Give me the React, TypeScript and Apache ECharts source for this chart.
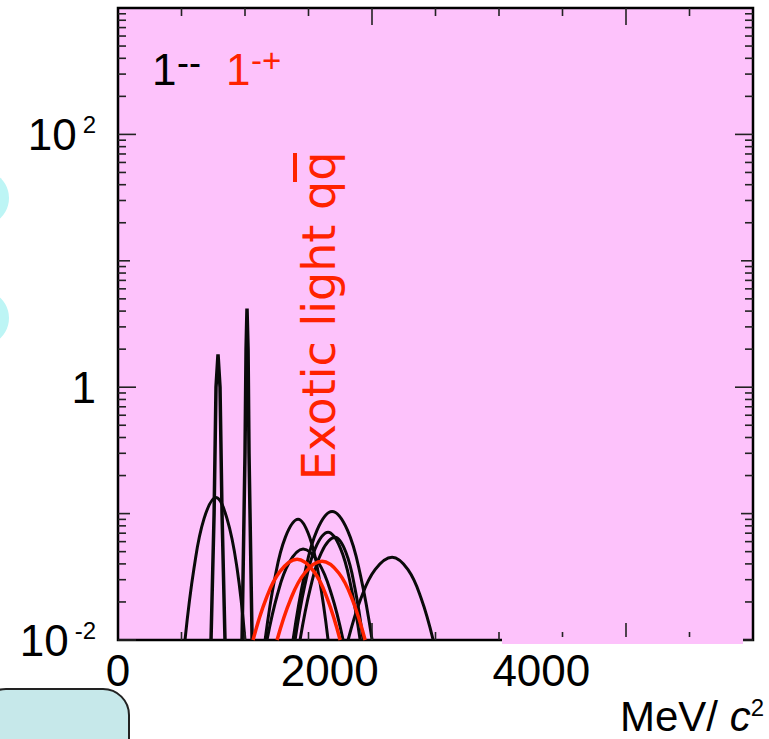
import React, { useEffect, useRef } from "react";
import * as echarts from "echarts";

// ---- data (MeV, log-scale values) ----
const xLabelValues = [0, 2000, 4000];
const xMinorTicks = [600, 1200, 1800, 3000, 3600, 4200, 5400];
const xMajorTicks = [2400, 4800];
const yLabelDecades = [-2, 0, 2];
const yDecades = [-2, -1, 0, 1, 2];
const yMinorMultipliers = [2, 3, 4, 5, 6, 7, 8, 9];

// vector mesons 1--
const narrowA = [[879, 0.01], [908, 0.1], [926, 1.0], [945, 1.82], [964, 1.0], [983, 0.1], [1011, 0.01]];
const narrowB = [[1172, 0.01], [1200, 0.3], [1210, 2.0], [1219, 4.2], [1229, 2.0], [1238, 0.3], [1267, 0.01]];
const broadC = [[633, 0.01], [718, 0.0369], [813, 0.0912], [926, 0.134], [1030, 0.0912], [1125, 0.0369], [1200, 0.01]];
const broadD = [[1390, 0.01], [1480, 0.0302], [1581, 0.0649], [1702, 0.0901], [1811, 0.0649], [1903, 0.0302], [1985, 0.01]];
const broadE = [[1408, 0.01], [1507, 0.023], [1616, 0.0408], [1749, 0.0524], [1895, 0.0408], [2017, 0.023], [2127, 0.01]];
const broadF = [[1654, 0.01], [1761, 0.0325], [1880, 0.0738], [2023, 0.104], [2169, 0.0738], [2291, 0.0325], [2401, 0.01]];
const broadG = [[1673, 0.01], [1764, 0.0268], [1864, 0.0531], [1985, 0.0711], [2102, 0.0531], [2200, 0.0268], [2288, 0.01]];
const broadG2 = [[1720, 0.01], [1817, 0.0256], [1923, 0.0494], [2051, 0.0649], [2153, 0.0494], [2239, 0.0256], [2316, 0.01]];
const broadH = [[2174, 0.01], [2295, 0.0213], [2429, 0.036], [2590, 0.0451], [2740, 0.036], [2865, 0.0213], [2978, 0.01]];
// exotic 1-+
const exoticR1 = [[1276, 0.01], [1397, 0.021], [1531, 0.0349], [1692, 0.0435], [1850, 0.0349], [1980, 0.021], [2099, 0.01]];
const exoticR2 = [[1503, 0.01], [1627, 0.0206], [1764, 0.0339], [1928, 0.0419], [2086, 0.0339], [2217, 0.0206], [2335, 0.01]];

const X_MIN = 0;
const X_MAX = 6000;
const Y_MIN = 0.01;
const Y_MAX = 1000;

const FONT = '"Liberation Sans Narrow", "Liberation Sans", Arial, sans-serif';
const FONT_W = '"Liberation Sans", Arial, sans-serif';
const PINK = "#fdc2fb";
const RED = "#ff2200";

export default function App() {
  const ref = useRef<HTMLDivElement>(null);
  useEffect(() => {
    document.body.style.margin = "0";
    const chart = echarts.init(ref.current!, null, { renderer: "svg" });

    const yTicks: number[][] = [];
    yDecades.forEach((d) => {
      const base = Math.pow(10, d);
      yTicks.push([0, base, yLabelDecades.includes(d) ? 18 : 12]);
      yMinorMultipliers.forEach((m) => yTicks.push([0, base * m, 8]));
    });
    const xTicks: number[][] = [
      ...xMinorTicks.map((v) => [v, Y_MIN, 8]),
      ...xMajorTicks.map((v) => [v, Y_MIN, 17]),
    ];

    const blackLine = (data: number[][], smooth: number | boolean, width = 3) => ({
      type: "line",
      data,
      smooth,
      symbol: "none",
      lineStyle: { color: "#0a0a0a", width },
      z: 3,
    });
    const redLine = (data: number[][]) => ({
      type: "line",
      data,
      smooth: 0.4,
      symbol: "none",
      lineStyle: { color: RED, width: 3.5 },
      z: 4,
    });

    const option: any = {
      animation: false,
      grid: {
        left: 118,
        right: 16,
        top: 8,
        bottom: 99,
        show: true,
        backgroundColor: PINK,
        borderColor: "#000",
        borderWidth: 2.5,
      },
      xAxis: {
        type: "value",
        min: X_MIN,
        max: X_MAX,
        interval: 2000,
        axisLine: { show: false },
        axisTick: { show: false },
        splitLine: { show: false },
        axisLabel: {
          fontFamily: FONT,
          fontSize: 44,
          color: "#000",
          margin: 8,
          formatter: (v: number) => (xLabelValues.includes(v) ? String(v) : ""),
        },
      },
      yAxis: {
        type: "log",
        logBase: 10,
        min: Y_MIN,
        max: Y_MAX,
        axisLine: { show: false },
        axisTick: { show: false },
        splitLine: { show: false },
        axisLabel: {
          margin: 22,
          formatter: (v: number) => {
            const d = Math.round(Math.log10(v));
            if (!yLabelDecades.includes(d)) return "";
            if (d === 0) return "{b|1}";
            return "{b|10}{s|" + String(d) + "}";
          },
          rich: {
            b: { fontFamily: FONT, fontSize: 44, color: "#000" },
            s: { fontFamily: FONT, fontSize: 24, color: "#000", verticalAlign: "top", padding: [0, 0, 0, 6] },
          },
        },
      },
      series: [
        {
          type: "custom",
          coordinateSystem: "cartesian2d",
          clip: false,
          silent: true,
          z: 6,
          data: yTicks,
          encode: { x: 0, y: 1 },
          renderItem: (_p: any, api: any) => {
            const v = api.value(1);
            const len = api.value(2);
            const l = api.coord([X_MIN, v]);
            const r = api.coord([X_MAX, v]);
            return {
              type: "group",
              children: [
                { type: "line", shape: { x1: l[0], y1: l[1], x2: l[0] + len, y2: l[1] }, style: { stroke: "#222", lineWidth: 1.6 } },
                { type: "line", shape: { x1: r[0] - len, y1: r[1], x2: r[0], y2: r[1] }, style: { stroke: "#222", lineWidth: 1.6 } },
              ],
            };
          },
        },
        {
          type: "custom",
          coordinateSystem: "cartesian2d",
          clip: false,
          silent: true,
          z: 6,
          data: xTicks,
          encode: { x: 0, y: 1 },
          renderItem: (_p: any, api: any) => {
            const v = api.value(0);
            const len = api.value(2);
            const b = api.coord([v, Y_MIN]);
            const t = api.coord([v, Y_MAX]);
            return {
              type: "group",
              children: [
                { type: "line", shape: { x1: b[0], y1: b[1], x2: b[0], y2: b[1] - len }, style: { stroke: "#222", lineWidth: 1.6 } },
                { type: "line", shape: { x1: t[0], y1: t[1], x2: t[0], y2: t[1] + len }, style: { stroke: "#222", lineWidth: 1.6 } },
              ],
            };
          },
        },
        blackLine(broadC, 0.4),
        blackLine(narrowA, false, 3.5),
        blackLine(narrowB, false, 3.5),
        blackLine(broadD, 0.4),
        blackLine(broadE, 0.4),
        blackLine(broadF, 0.4),
        blackLine(broadG, 0.4),
        blackLine(broadG2, 0.4),
        blackLine(broadH, 0.4),
        redLine(exoticR1),
        redLine(exoticR2),
      ],
      graphic: [
        { type: "circle", shape: { cx: -19, cy: 198, r: 28 }, style: { fill: "#bdf5f5" }, z: 1 },
        { type: "circle", shape: { cx: -19, cy: 318, r: 28 }, style: { fill: "#bdf5f5" }, z: 1 },
        {
          type: "rect",
          shape: { x: -20, y: 689, width: 149, height: 100, r: 26 },
          style: { fill: "#c6e8ea", stroke: "#222", lineWidth: 2 },
          z: 1,
        },
        { type: "rect", shape: { x: 502, y: 637, width: 241, height: 7 }, style: { fill: PINK }, z: 100 },
        { type: "text", x: 152, y: 69, style: { text: "1", font: "44px " + FONT_W, fill: "#000", verticalAlign: "middle" }, z: 50 },
        { type: "text", x: 177, y: 62, style: { text: "--", font: "36px " + FONT_W, fill: "#000", verticalAlign: "middle" }, z: 50 },
        { type: "text", x: 226, y: 69, style: { text: "1", font: "44px " + FONT_W, fill: RED, verticalAlign: "middle" }, z: 50 },
        { type: "text", x: 251, y: 60, style: { text: "-+", font: "33px " + FONT_W, fill: RED, verticalAlign: "middle" }, z: 50 },
        {
          type: "text",
          x: 319,
          y: 316,
          rotation: Math.PI / 2,
          style: {
            text: "Exotic light qq",
            font: "46px " + '"DejaVu Sans", sans-serif',
            fill: RED,
            align: "center",
            verticalAlign: "middle",
          },
          z: 50,
        },
        { type: "rect", shape: { x: 293, y: 153, width: 4, height: 29 }, style: { fill: RED }, z: 50 },
        {
          type: "text",
          x: 764,
          y: 716,
          style: {
            text: "{a|MeV/ }{c|c}{s|2}",
            align: "right",
            verticalAlign: "middle",
            rich: {
              a: { fontFamily: FONT, fontSize: 42, fill: "#000" },
              c: { fontFamily: FONT, fontSize: 42, fontStyle: "italic", fill: "#000" },
              s: { fontFamily: FONT, fontSize: 24, fill: "#000", verticalAlign: "top" },
            },
          },
          z: 50,
        },
      ],
    };
    chart.setOption(option);
    return () => chart.dispose();
  }, []);
  return <div ref={ref} style={{ width: 769, height: 739 }} />;
}
